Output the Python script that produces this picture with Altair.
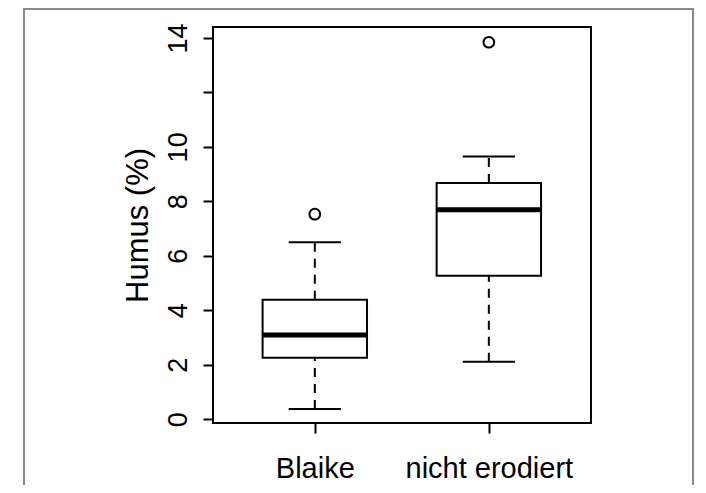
import json
import altair as alt
import pandas as pd

# ---- data ----
categories = ["Blaike", "nicht erodiert"]
positions = [1, 2]
whisker_low = [0.38, 2.11]
q1 = [2.26, 5.27]
median = [3.09, 7.69]
q3 = [4.39, 8.67]
whisker_high = [6.50, 9.65]
outlier_pos = [1, 2]
outlier_val = [7.53, 13.84]
y_ticks = [0, 2, 4, 6, 8, 10, 12, 14]

boxes = pd.DataFrame({
    "cat": categories, "pos": positions, "lo": whisker_low, "q1": q1,
    "med": median, "q3": q3, "hi": whisker_high,
})
outs = pd.DataFrame({"pos": outlier_pos, "val": outlier_val})

W, H = 378, 396
BOX_HALF = 0.3
CAP_HALF = 0.15

xscale = alt.Scale(domain=[0.415, 2.587], nice=False, zero=False)
yscale = alt.Scale(domain=[-0.136, 14.40], nice=False, zero=False)

label_expr_x = f"{json.dumps(categories)}[datum.value - 1]"

x_axis = alt.Axis(
    values=positions, labelExpr=label_expr_x, title=None, grid=False,
    domain=False, ticks=True, tickSize=10, tickWidth=2, tickColor="black",
    labelFont="Liberation Sans", labelFontSize=29, labelColor="black",
    labelBaseline="alphabetic", labelPadding=44, labelAlign="center",
)
y_axis = alt.Axis(
    values=y_ticks, labelExpr="datum.value == 12 ? '' : datum.label",
    title="Humus (%)", grid=False, domain=False, ticks=True, tickSize=10,
    tickWidth=2, tickColor="black", labelFont="Liberation Sans",
    labelFontSize=27, labelColor="black", labelAngle=270,
    labelAlign="center", labelBaseline="alphabetic", labelPadding=17,
    titleFont="Liberation Sans", titleFontSize=31, titleFontWeight="normal",
    titleColor="black", titleAngle=270, titleAlign="center",
    titleBaseline="alphabetic", titleX=-66, titleY=H / 2,
)

base = alt.Chart(boxes).transform_calculate(
    bl=f"datum.pos - {BOX_HALF}", br=f"datum.pos + {BOX_HALF}",
    cl=f"datum.pos - {CAP_HALF}", cr=f"datum.pos + {CAP_HALF}",
)

# outer figure frame (decoration)
frame = alt.Chart(boxes).mark_rect(
    fill=None, fillOpacity=0, stroke="#8a8a8a", strokeWidth=2
).encode(
    x=alt.value(-189), x2=alt.value(480), y=alt.value(-18), y2=alt.value(700)
).transform_filter("datum.pos == 1")

whisk_up = base.mark_rule(color="black", strokeWidth=2, strokeDash=[9, 7]).encode(
    x=alt.X("pos:Q", scale=xscale, axis=x_axis),
    y=alt.Y("q3:Q", scale=yscale, axis=y_axis),
    y2="hi:Q",
)
whisk_lo = base.mark_rule(color="black", strokeWidth=2, strokeDash=[9, 7]).encode(
    x=alt.X("pos:Q", scale=xscale), y=alt.Y("lo:Q", scale=yscale), y2="q1:Q",
)
cap_hi = base.mark_rule(color="black", strokeWidth=2).encode(
    x=alt.X("cl:Q", scale=xscale), x2="cr:Q", y=alt.Y("hi:Q", scale=yscale),
)
cap_lo = base.mark_rule(color="black", strokeWidth=2).encode(
    x=alt.X("cl:Q", scale=xscale), x2="cr:Q", y=alt.Y("lo:Q", scale=yscale),
)
box = base.mark_rect(fill="white", stroke="black", strokeWidth=2).encode(
    x=alt.X("bl:Q", scale=xscale), x2="br:Q",
    y=alt.Y("q1:Q", scale=yscale), y2="q3:Q",
)
med = base.mark_rule(color="black", strokeWidth=5).encode(
    x=alt.X("bl:Q", scale=xscale), x2="br:Q", y=alt.Y("med:Q", scale=yscale),
)
pts = alt.Chart(outs).mark_point(
    shape="circle", filled=False, color="black", strokeWidth=2, size=115, opacity=1
).encode(
    x=alt.X("pos:Q", scale=xscale), y=alt.Y("val:Q", scale=yscale),
)

chart = alt.layer(
    frame, whisk_up, whisk_lo, cap_hi, cap_lo, box, med, pts
).properties(
    width=W, height=H,
    autosize=alt.AutoSizeParams(type="none"),
    padding={"left": 205, "top": 19, "right": 107, "bottom": 62},
    background="white",
).configure_view(stroke="black", strokeWidth=2)

chart.save("out.html", embed_options={"renderer": "svg", "actions": False})
